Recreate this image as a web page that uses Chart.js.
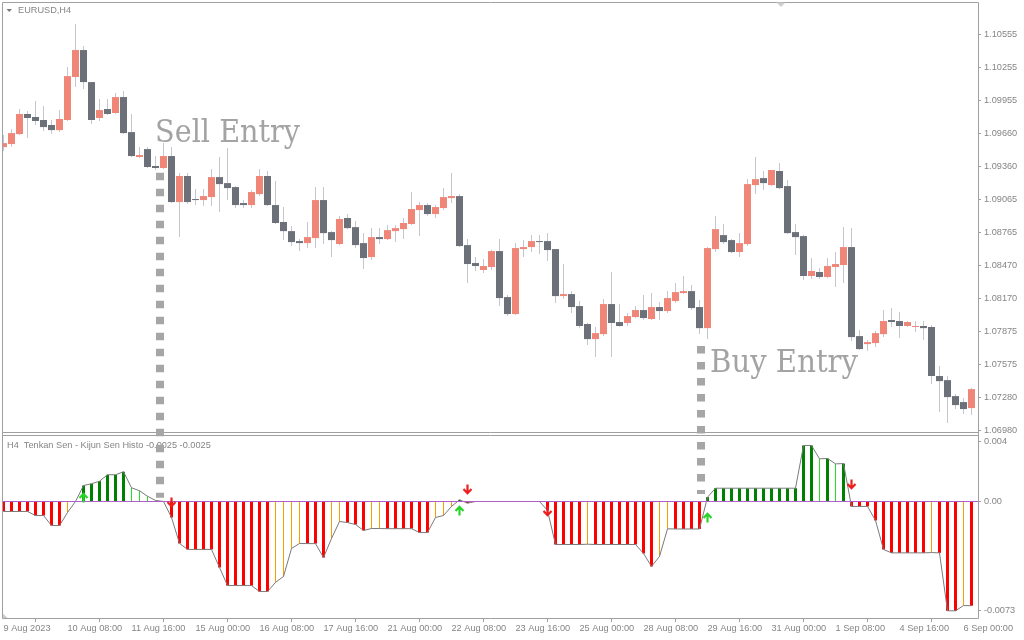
<!DOCTYPE html>
<html>
<head>
<meta charset="utf-8">
<title>EURUSD H4 - Tenkan Sen - Kijun Sen Histo</title>
<script src="https://cdn.jsdelivr.net/npm/chart.js@4.4.1/dist/chart.umd.min.js"></script>
<style>
  html, body { margin: 0; padding: 0; background: #ffffff; }
  #wrap { position: relative; width: 1024px; height: 640px; overflow: hidden; background: #ffffff; }
  #main { position: absolute; left: 0; top: 0; }
  #ind { position: absolute; left: 0; top: 434px; }
</style>
</head>
<body>
<div id="wrap">
  <canvas id="main" width="1024" height="434"></canvas>
  <canvas id="ind" width="1024" height="206"></canvas>
</div>
<script>
// ---------------- DATA ----------------
const symbolTitle = 'EURUSD,H4';
const indicatorTitle = 'H4  Tenkan Sen - Kijun Sen Histo -0.0025 -0.0025';

// time axis labels, one every 8 H4 bars (bar 0 = 9 Aug 2023 00:00)
const timeLabelBars = [0, 8, 16, 24, 32, 40, 48, 56, 64, 72, 80, 88, 96, 104, 112, 120];
const timeLabels = ['9 Aug 2023', '10 Aug 08:00', '11 Aug 16:00', '15 Aug 00:00', '16 Aug 08:00',
  '17 Aug 16:00', '21 Aug 00:00', '22 Aug 08:00', '23 Aug 16:00', '25 Aug 00:00', '28 Aug 08:00',
  '29 Aug 16:00', '31 Aug 00:00', '1 Sep 08:00', '4 Sep 16:00', '6 Sep 00:00'];

const openP = [
  1.09538,1.09565,1.09655,1.09836,1.09809,1.09782,1.09737,1.09691,1.09782,1.10170,
  1.10413,1.10124,1.09800,1.09881,1.09845,1.09989,1.09673,1.09448,1.09520,1.09367,
  1.09349,1.09457,1.09042,1.09277,1.09069,1.09060,1.09087,1.09267,1.09213,1.09177,
  1.09033,1.09015,1.09114,1.09277,1.09015,1.08862,1.08780,1.08690,1.08672,1.08717,
  1.09060,1.08771,1.08663,1.08898,1.08816,1.08672,1.08546,1.08726,1.08708,1.08780,
  1.08798,1.08844,1.08970,1.09015,1.08934,1.08988,1.09078,1.09096,1.08654,1.08492,
  1.08429,1.08456,1.08600,1.08185,1.08032,1.08618,1.08636,1.08690,1.08690,1.08618,
  1.08194,1.08212,1.08104,1.07942,1.07806,1.07851,1.08122,1.07960,1.07951,1.08005,
  1.08068,1.07987,1.08095,1.08059,1.08149,1.08221,1.08239,1.08095,1.07905,1.08618,
  1.08744,1.08699,1.08591,1.08663,1.09195,1.09258,1.09195,1.09322,1.09186,1.08771,
  1.08735,1.08375,1.08411,1.08366,1.08456,1.08474,1.08636,1.07833,1.07761,1.07770,
  1.07851,1.07978,1.07969,1.07924,1.07915,1.07924,1.07915,1.07473,1.07436,1.07292,
  1.07238,1.07184];
const highP = [
  1.09646,1.09700,1.09881,1.09863,1.09953,1.09908,1.09782,1.09872,1.10260,1.10648,
  1.10449,1.10124,1.09971,1.09971,1.10025,1.10043,1.09836,1.09538,1.09538,1.09457,
  1.09574,1.09538,1.09304,1.09304,1.09159,1.09159,1.09340,1.09448,1.09529,1.09186,
  1.09060,1.09150,1.09340,1.09322,1.09231,1.08997,1.08825,1.08708,1.08862,1.09177,
  1.09177,1.08780,1.08916,1.08934,1.08871,1.08762,1.08807,1.08807,1.08834,1.08834,
  1.08898,1.09132,1.09042,1.09033,1.09015,1.09168,1.09304,1.09114,1.08708,1.08546,
  1.08528,1.08609,1.08708,1.08203,1.08672,1.08699,1.08744,1.08744,1.08762,1.08618,
  1.08483,1.08239,1.08149,1.07951,1.07915,1.08167,1.08411,1.08122,1.08041,1.08104,
  1.08203,1.08221,1.08140,1.08239,1.08311,1.08375,1.08293,1.08158,1.08636,1.08916,
  1.08844,1.08708,1.08762,1.09249,1.09448,1.09322,1.09331,1.09394,1.09240,1.08844,
  1.08744,1.08537,1.08447,1.08537,1.08591,1.08816,1.08807,1.07887,1.07797,1.07878,
  1.08068,1.08086,1.08050,1.07969,1.07969,1.07969,1.07933,1.07563,1.07473,1.07310,
  1.07274,1.07364];
const lowP = [
  1.09502,1.09538,1.09646,1.09619,1.09737,1.09682,1.09655,1.09673,1.09773,1.10079,
  1.10061,1.09746,1.09773,1.09827,1.09836,1.09655,1.09448,1.09439,1.09349,1.09331,
  1.09340,1.09033,1.08726,1.09024,1.09015,1.09006,1.09006,1.08952,1.09060,1.08988,
  1.08988,1.08988,1.09096,1.09006,1.08844,1.08699,1.08645,1.08600,1.08627,1.08627,
  1.08663,1.08546,1.08654,1.08798,1.08627,1.08438,1.08519,1.08663,1.08699,1.08681,
  1.08708,1.08834,1.08735,1.08916,1.08898,1.08970,1.09033,1.08636,1.08311,1.08420,
  1.08402,1.08429,1.08104,1.08014,1.08023,1.08546,1.08591,1.08573,1.08510,1.08131,
  1.08167,1.08041,1.07905,1.07752,1.07644,1.07833,1.07644,1.07915,1.07924,1.07996,
  1.07978,1.07978,1.07978,1.08041,1.08131,1.08212,1.08068,1.07851,1.07806,1.08591,
  1.08663,1.08582,1.08546,1.08645,1.09114,1.09150,1.09186,1.09159,1.08753,1.08564,
  1.08338,1.08347,1.08347,1.08356,1.08275,1.08311,1.07788,1.07707,1.07698,1.07734,
  1.07824,1.07915,1.07815,1.07915,1.07869,1.07797,1.07400,1.07148,1.07049,1.07175,
  1.07130,1.07121];
const closeP = [
  1.09574,1.09664,1.09836,1.09800,1.09773,1.09718,1.09691,1.09791,1.10178,1.10413,
  1.10124,1.09782,1.09872,1.09836,1.09989,1.09664,1.09457,1.09466,1.09358,1.09349,
  1.09457,1.09042,1.09277,1.09042,1.09060,1.09096,1.09267,1.09204,1.09168,1.09015,
  1.09015,1.09132,1.09277,1.09015,1.08853,1.08780,1.08681,1.08672,1.08726,1.09060,
  1.08762,1.08699,1.08889,1.08807,1.08654,1.08537,1.08726,1.08708,1.08789,1.08807,
  1.08853,1.08979,1.09015,1.08934,1.08997,1.09087,1.09096,1.08645,1.08483,1.08465,
  1.08465,1.08600,1.08176,1.08032,1.08627,1.08636,1.08690,1.08681,1.08609,1.08194,
  1.08212,1.08095,1.07924,1.07806,1.07860,1.08122,1.07951,1.07924,1.08014,1.08068,
  1.07996,1.08095,1.08059,1.08176,1.08230,1.08239,1.08086,1.07905,1.08627,1.08798,
  1.08681,1.08591,1.08672,1.09204,1.09249,1.09213,1.09331,1.09168,1.08762,1.08726,
  1.08375,1.08420,1.08366,1.08465,1.08483,1.08636,1.07824,1.07716,1.07779,1.07860,
  1.07969,1.07960,1.07924,1.07960,1.07924,1.07905,1.07473,1.07427,1.07283,1.07211,
  1.07175,1.07355];

const priceTicks = [1.10555, 1.10255, 1.09955, 1.09660, 1.09360, 1.09065, 1.08765,
  1.08470, 1.08170, 1.07875, 1.07575, 1.07280, 1.06980];

// Tenkan Sen - Kijun Sen histogram
const histo = [
  -0.00067,-0.00067,-0.00067,-0.00067,-0.00094,-0.00094,-0.00161,-0.00161,-0.00074,0,
  0.00107,0.00119,0.00136,0.00179,0.00179,0.00199,0.00092,0.00072,0.00035,0.00007,
  0,-0.00107,-0.00281,-0.00321,-0.00321,-0.00321,-0.00321,-0.00442,-0.00563,-0.00563,
  -0.00563,-0.00563,-0.00603,-0.00603,-0.00542,-0.00502,-0.00315,-0.00281,-0.00282,-0.00282,
  -0.00375,-0.00248,-0.00134,-0.00141,-0.00154,-0.00194,-0.00181,-0.00181,-0.00182,-0.00182,
  -0.00182,-0.00182,-0.00208,-0.00208,-0.00107,-0.00094,-0.00033,0.00011,-0.00011,0,
  0,0,0,0,0,0,0,0,-0.0006,-0.00288,
  -0.00288,-0.00288,-0.00288,-0.00286,-0.00288,-0.00288,-0.00288,-0.00288,-0.00288,-0.00288,
  -0.00348,-0.00435,-0.00368,-0.00183,-0.00184,-0.00184,-0.00184,-0.00184,0.00029,0.00089,
  0.00089,0.00089,0.00089,0.00089,0.00089,0.00089,0.00089,0.00089,0.00089,0.00089,
  0.00375,0.00375,0.00286,0.00288,0.00252,0.00254,-0.00033,-0.00033,-0.00033,-0.00127,
  -0.00321,-0.00344,-0.00344,-0.00344,-0.00344,-0.00344,-0.00342,-0.00344,-0.00732,-0.00732,
  -0.00697,-0.00698];

const indTicks = [0.004, 0, -0.0073];
const indTickLabels = ['0.004', '0.00', '-0.0073'];

// signal arrows (bar index, indicator value)
const upArrowBars = [10, 57, 88];
const upArrowValues = [0.00027, -0.0006, -0.00107];
const downArrowBars = [21, 58, 68, 106];
const downArrowValues = [-0.00007, 0.0008, -0.00067, 0.00114];

// entry annotations
const entryNotes = ['Sell Entry', 'Buy Entry'];
const noteBars = [18.94, 88.31];
const notePrices = [1.09586, 1.07507];
const entryBars = [19.56, 87.15];
const entryPrices = [1.09306, 1.07743];
const entryEndValues = [0.00025, 0.0005];

// ---------------- STYLE ----------------
const BULL = '#ef8677', BEAR = '#6b7079', WICK = '#c5c7cf';
const BORDER = '#a0a0a0', TXT = '#858585';
const RED = '#ff0000', ORANGE = '#f5a000', DKGREEN = '#008000', LIME = '#22e022';
const ZERO = '#b05fc8', HLINE = '#7a7a7a', NOTE = '#a3a3a3', DASH = '#a6a6a6';
const SMALL = { family: '"Liberation Sans", Arial, sans-serif', size: 9.2 };
const SMALL_CSS = '9.2px "Liberation Sans", Arial, sans-serif';
const X_MIN = -0.0625, X_MAX = X_MIN + 975 / 8;
const PRICE_MIN = 1.069682, PRICE_MAX = 1.108373;
const IND_MIN = -0.007802, IND_MAX = 0.004386;
const MAIN_H = 434;

const bars = openP.map((_, i) => i);

function makeArrow(color, up) {
  const c = document.createElement('canvas');
  c.width = 11; c.height = 11;
  const g = c.getContext('2d');
  g.strokeStyle = color; g.lineWidth = 2.2; g.lineJoin = 'miter';
  g.beginPath();
  if (up) {
    g.moveTo(5.5, 10.5); g.lineTo(5.5, 2);
    g.moveTo(1.5, 6); g.lineTo(5.5, 1.8); g.lineTo(9.5, 6);
  } else {
    g.moveTo(5.5, 0.5); g.lineTo(5.5, 9);
    g.moveTo(1.5, 5); g.lineTo(5.5, 9.2); g.lineTo(9.5, 5);
  }
  g.stroke();
  return c;
}

// ---------------- MAIN CHART ----------------
const mainDecor = {
  id: 'mainDecor',
  afterDraw(chart) {
    const g = chart.ctx, a = chart.chartArea, xs = chart.scales.x, ys = chart.scales.y;
    g.save();
    // frame
    g.strokeStyle = BORDER; g.lineWidth = 1;
    g.beginPath();
    g.moveTo(a.left - 0.5, chart.height); g.lineTo(a.left - 0.5, a.top - 0.5);
    g.lineTo(a.right + 0.5, a.top - 0.5); g.lineTo(a.right + 0.5, chart.height);
    g.moveTo(a.left - 0.5, a.bottom + 0.5); g.lineTo(a.right + 0.5, a.bottom + 0.5);
    g.stroke();
    // title
    g.fillStyle = '#7a7a7a';
    g.beginPath(); g.moveTo(6.5, 9); g.lineTo(12, 9); g.lineTo(9.25, 12); g.closePath(); g.fill();
    g.fillStyle = TXT; g.font = SMALL_CSS; g.textBaseline = 'middle'; g.textAlign = 'left';
    g.fillText(symbolTitle, 18, 10.5);
    // shift marker
    g.fillStyle = '#cfcfcf';
    g.beginPath(); g.moveTo(776.5, 2.5); g.lineTo(785.5, 2.5); g.lineTo(781, 7); g.closePath(); g.fill();
    // entry notes
    const noteWidths = [145, 148];
    g.fillStyle = NOTE; g.font = '32px "DejaVu Serif", serif'; g.textBaseline = 'alphabetic';
    entryNotes.forEach((t, i) => {
      const x = xs.getPixelForValue(noteBars[i]), y = ys.getPixelForValue(notePrices[i]);
      const w = g.measureText(t).width;
      g.save(); g.translate(x, y); g.scale(noteWidths[i] / w, 1); g.fillText(t, 0, 0); g.restore();
    });
    // dashed entry lines
    g.strokeStyle = DASH; g.lineWidth = 8; g.setLineDash([7.5, 8.5]); g.lineDashOffset = 0;
    entryBars.forEach((b, i) => {
      const x = Math.round(xs.getPixelForValue(b));
      const y0 = ys.getPixelForValue(entryPrices[i]);
      g.beginPath(); g.moveTo(x, y0); g.lineTo(x, chart.height); g.stroke();
    });
    g.restore();
  }
};

const mainChart = new Chart(document.getElementById('main'), {
  type: 'bar',
  data: {
    datasets: [
      { label: 'wicks', data: bars.map(i => ({ x: i, y: [lowP[i], highP[i]] })),
        backgroundColor: WICK, barThickness: 1, grouped: false, order: 2, clip: 0,
        inflateAmount: 0, borderWidth: 0 },
      { label: 'bodies', data: bars.map(i => ({ x: i, y: [openP[i], closeP[i]] })),
        backgroundColor: bars.map(i => closeP[i] >= openP[i] ? BULL : BEAR),
        barThickness: 7, minBarLength: 1, grouped: false, order: 1, clip: 0,
        inflateAmount: 0, borderWidth: 0 }
    ]
  },
  options: {
    responsive: false, animation: false, devicePixelRatio: 1, events: [],
    layout: { autoPadding: false, padding: { left: 3, top: 3, right: 0, bottom: 2 } },
    plugins: { legend: { display: false }, tooltip: { enabled: false } },
    scales: {
      x: { type: 'linear', min: X_MIN, max: X_MAX, display: false, offset: false },
      y: {
        type: 'linear', position: 'right', min: PRICE_MIN, max: PRICE_MAX,
        afterBuildTicks: s => { s.ticks = priceTicks.map(v => ({ value: v })); },
        afterFit: s => { s.width = 46; s.paddingTop = 0; s.paddingBottom = 0; },
        grid: { drawOnChartArea: false, drawTicks: true, tickLength: 3, color: BORDER },
        border: { display: false },
        ticks: { padding: 3, color: TXT, font: SMALL, autoSkip: false,
                 callback: v => Number(v).toFixed(5) }
      }
    }
  },
  plugins: [mainDecor]
});

// ---------------- INDICATOR CHART ----------------
const rising = [];
histo.forEach((v, i) => {
  let up = i > 0 ? rising[i - 1] : false;
  if (i > 0 && v > histo[i - 1]) up = true;
  else if (i > 0 && v < histo[i - 1]) up = false;
  rising.push(up);
});
const pick = test => bars.filter(i => histo[i] !== 0 && test(i)).map(i => ({ x: i, y: histo[i] }));
const barCommon = { type: 'bar', grouped: false, order: 3, clip: 0, inflateAmount: 0, borderWidth: 0 };

const indDecor = {
  id: 'indDecor',
  afterDatasetDraw(chart, args) {
    if (chart.data.datasets[args.index].label !== 'Tenkan-Kijun') return;
    const g = chart.ctx, a = chart.chartArea;
    const y = Math.round(chart.scales.y.getPixelForValue(0)) + 0.5;
    g.save(); g.strokeStyle = ZERO; g.lineWidth = 1;
    g.beginPath(); g.moveTo(a.left, y); g.lineTo(a.right, y); g.stroke(); g.restore();
  },
  afterDraw(chart) {
    const g = chart.ctx, a = chart.chartArea, xs = chart.scales.x, ys = chart.scales.y;
    g.save();
    g.strokeStyle = BORDER; g.lineWidth = 1;
    g.beginPath();
    g.moveTo(a.left - 0.5, 0); g.lineTo(a.left - 0.5, a.bottom + 0.5);
    g.lineTo(a.right + 0.5, a.bottom + 0.5); g.lineTo(a.right + 0.5, 0);
    g.moveTo(a.left - 0.5, a.top - 0.5); g.lineTo(a.right + 0.5, a.top - 0.5);
    g.stroke();
    g.fillStyle = '#cdcdcd';
    g.beginPath(); g.moveTo(3, a.bottom - 4.5); g.lineTo(3, a.bottom); g.lineTo(7.5, a.bottom); g.closePath(); g.fill();
    g.fillStyle = TXT; g.font = SMALL_CSS; g.textBaseline = 'middle'; g.textAlign = 'left';
    g.fillText(indicatorTitle, 7, 11);
    // dashed entry lines continuing from the price pane
    g.strokeStyle = DASH; g.lineWidth = 8; g.setLineDash([7.5, 8.5]);
    entryBars.forEach((b, i) => {
      const x = Math.round(xs.getPixelForValue(b));
      const topGlobal = mainChart.scales.y.getPixelForValue(entryPrices[i]);
      g.lineDashOffset = (((MAIN_H - topGlobal) % 16) + 16) % 16;
      g.beginPath(); g.moveTo(x, 0); g.lineTo(x, ys.getPixelForValue(entryEndValues[i])); g.stroke();
    });
    g.restore();
  }
};

new Chart(document.getElementById('ind'), {
  type: 'bar',
  data: {
    datasets: [
      { ...barCommon, label: 'down-neg', data: pick(i => histo[i] < 0 && !rising[i]), backgroundColor: RED, barThickness: 3 },
      { ...barCommon, label: 'up-neg', data: pick(i => histo[i] < 0 && rising[i]), backgroundColor: ORANGE, barThickness: 1 },
      { ...barCommon, label: 'up-pos', data: pick(i => histo[i] > 0 && rising[i]), backgroundColor: DKGREEN, barThickness: 3 },
      { ...barCommon, label: 'down-pos', data: pick(i => histo[i] > 0 && !rising[i]), backgroundColor: LIME, barThickness: 1 },
      { type: 'line', label: 'Tenkan-Kijun', data: bars.map(i => ({ x: i, y: histo[i] })),
        borderColor: HLINE, borderWidth: 1, pointRadius: 0, tension: 0, order: 2, clip: 0 },
      { type: 'line', label: 'buy', data: upArrowBars.map((b, j) => ({ x: b, y: upArrowValues[j] })),
        showLine: false, pointStyle: makeArrow('#2ad42a', true), pointRadius: 5, order: 1, clip: 0 },
      { type: 'line', label: 'sell', data: downArrowBars.map((b, j) => ({ x: b, y: downArrowValues[j] })),
        showLine: false, pointStyle: makeArrow('#ee1c1c', false), pointRadius: 5, order: 1, clip: 0 }
    ]
  },
  options: {
    responsive: false, animation: false, devicePixelRatio: 1, events: [],
    layout: { autoPadding: false, padding: { left: 3, top: 2, right: 0, bottom: 0 } },
    plugins: { legend: { display: false }, tooltip: { enabled: false } },
    scales: {
      x: {
        type: 'linear', min: X_MIN, max: X_MAX, offset: false, position: 'bottom',
        afterBuildTicks: s => { s.ticks = timeLabelBars.map(v => ({ value: v })); },
        afterFit: s => { s.height = 22; s.paddingLeft = 0; s.paddingRight = 0; },
        grid: { drawOnChartArea: false, drawTicks: true, tickLength: 4, color: BORDER },
        border: { display: false },
        ticks: { align: 'start', padding: 1, color: TXT, font: SMALL, autoSkip: false,
                 maxRotation: 0, minRotation: 0, callback: (v, i) => timeLabels[i] }
      },
      y: {
        type: 'linear', position: 'right', min: IND_MIN, max: IND_MAX,
        afterBuildTicks: s => { s.ticks = indTicks.map(v => ({ value: v })); },
        afterFit: s => { s.width = 46; s.paddingTop = 0; s.paddingBottom = 0; },
        grid: { drawOnChartArea: false, drawTicks: true, tickLength: 3, color: BORDER },
        border: { display: false },
        ticks: { padding: 3, color: TXT, font: SMALL, autoSkip: false,
                 callback: (v, i) => indTickLabels[i] }
      }
    }
  },
  plugins: [indDecor]
});
</script>
</body>
</html>
